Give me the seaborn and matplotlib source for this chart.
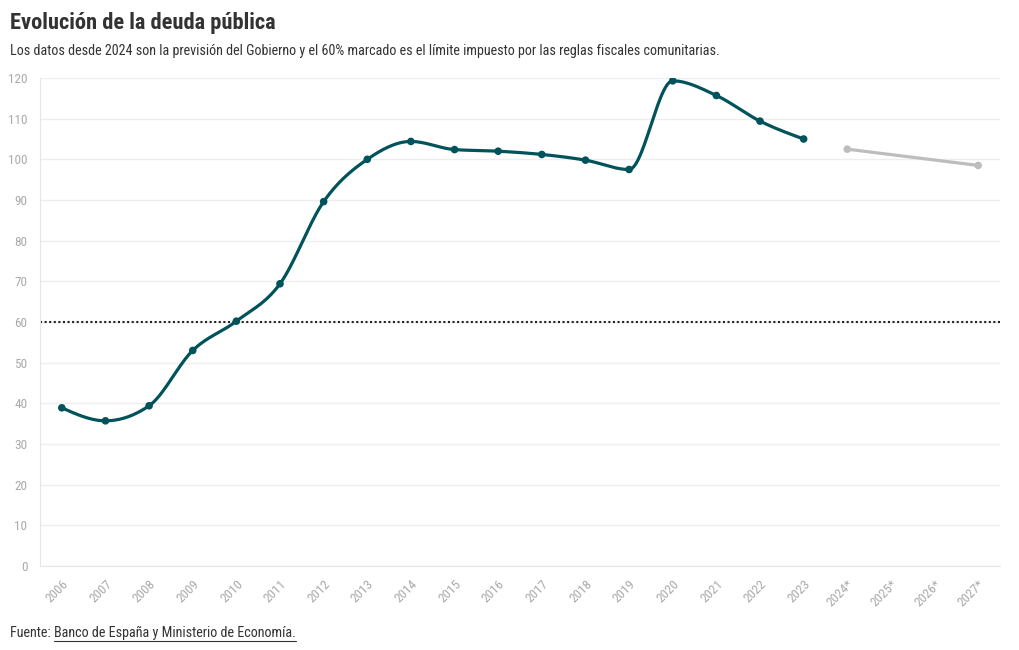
import numpy as np
import pandas as pd
import matplotlib.pyplot as plt
import seaborn as sns
from matplotlib import font_manager

years = ["2006", "2007", "2008", "2009", "2010", "2011", "2012", "2013", "2014", "2015",
         "2016", "2017", "2018", "2019", "2020", "2021", "2022", "2023",
         "2024*", "2025*", "2026*", "2027*"]
deuda = [38.9, 35.7, 39.4, 53.0, 60.2, 69.4, 89.6, 100.0, 104.4, 102.4,
         102.0, 101.2, 99.8, 97.5, 119.3, 115.7, 109.4, 105.0]
prev_years = ["2024*", "2027*"]
prev_deuda = [102.5, 98.5]
limite = 60

TEAL = "#00535a"
GRAY = "#bdbdbd"
TICK = "#aaaaaa"

sns.set_style("white")
names = {f.name for f in font_manager.fontManager.ttflist}
fam = [f for f in ["Roboto Condensed", "Liberation Sans Narrow", "Roboto", "DejaVu Sans"] if f in names]
plt.rcParams['font.family'] = fam


def monotone(y):
    # d3 curveMonotoneX style smoothing for drawing the line
    y = np.asarray(y, float)
    n = len(y)
    d = np.diff(y)
    t = np.zeros(n)
    for i in range(1, n - 1):
        s0, s1 = d[i - 1], d[i]
        p = (s0 + s1) / 2
        t[i] = (np.sign(s0) + np.sign(s1)) * min(abs(s0), abs(s1), 0.5 * abs(p))
    t[0] = (3 * d[0] - t[1]) / 2
    t[-1] = (3 * d[-1] - t[-2]) / 2
    xs, ys = [], []
    u = np.linspace(0, 1, 30)
    for i in range(n - 1):
        h00 = 2 * u**3 - 3 * u**2 + 1
        h10 = u**3 - 2 * u**2 + u
        h01 = -2 * u**3 + 3 * u**2
        h11 = u**3 - u**2
        xs.extend(i + u)
        ys.extend(h00 * y[i] + h10 * t[i] + h01 * y[i + 1] + h11 * t[i + 1])
    return np.array(xs), np.array(ys)


pos = {y: i for i, y in enumerate(years)}
df = pd.DataFrame({"x": [pos[y] for y in years[:len(deuda)]], "deuda": deuda})
dfp = pd.DataFrame({"x": [pos[y] for y in prev_years], "deuda": prev_deuda})
sx, sy = monotone(deuda)
curva = pd.DataFrame({"x": sx, "deuda": sy})

fig = plt.figure(figsize=(10.2, 6.5), dpi=100)
ax = fig.add_axes([40 / 1020, 1 - 566 / 650, 960 / 1020, 488 / 650])

ax.axhline(limite, color="#222222", lw=1.5, ls=(0, (1, 1.2)), zorder=2)
sns.lineplot(data=curva, x="x", y="deuda", color=TEAL, lw=2.3, ax=ax, zorder=4)
sns.scatterplot(data=df, x="x", y="deuda", color=TEAL, s=30, edgecolor="none", ax=ax, zorder=5)
sns.lineplot(data=dfp, x="x", y="deuda", color=GRAY, lw=2.3, ax=ax, zorder=4)
sns.scatterplot(data=dfp, x="x", y="deuda", color=GRAY, s=30, edgecolor="none", ax=ax, zorder=5)

ax.set_xlim(-0.5, len(years) - 0.5)
ax.set_ylim(0, 120)
ax.set_yticks(range(0, 121, 10))
ax.set_xticks(range(len(years)))
ax.set_xticklabels(years, rotation=45, ha="right", rotation_mode="anchor")
ax.grid(axis="y", color="#eeeeee", lw=1)
ax.set_axisbelow(True)
ax.set_xlabel("")
ax.set_ylabel("")
for s in ["top", "right"]:
    ax.spines[s].set_visible(False)
ax.spines["left"].set_color("#e6e6e6")
ax.spines["bottom"].set_color("#e6e6e6")
ax.tick_params(axis="both", colors=TICK, labelsize=9.5, length=5, width=1)
ax.tick_params(axis="x", pad=3, colors="#dddddd", labelcolor=TICK)
ax.tick_params(axis="y", pad=4, colors="#dddddd", labelcolor=TICK)

fig.text(10 / 1020, 1 - 23 / 650, "Evolución de la deuda pública", fontsize=16.2,
         fontweight="bold", color="#333333", va="center")
fig.text(10 / 1020, 1 - 51 / 650, "Los datos desde 2024 son la previsión del Gobierno y el 60% "
         "marcado es el límite impuesto por las reglas fiscales comunitarias.",
         fontsize=10.15, color="#333333", va="center")

t1 = fig.text(10 / 1020, 1 - 633 / 650, "Fuente: ", fontsize=10.15, color="#333333", va="center")
fig.canvas.draw()
r = fig.canvas.get_renderer()
bb = t1.get_window_extent(r)
x2 = bb.x1 / 1020
t2 = fig.text(x2, 1 - 633 / 650, "Banco de España y Ministerio de Economía.", fontsize=10.15,
              color="#333333", va="center")
bb2 = t2.get_window_extent(r)
yl = (bb2.y0 - 1) / 650
fig.add_artist(plt.Line2D([bb2.x0 / 1020, bb2.x1 / 1020], [yl, yl], color="#333333", lw=0.8))

fig.savefig("out.png", dpi=100)
